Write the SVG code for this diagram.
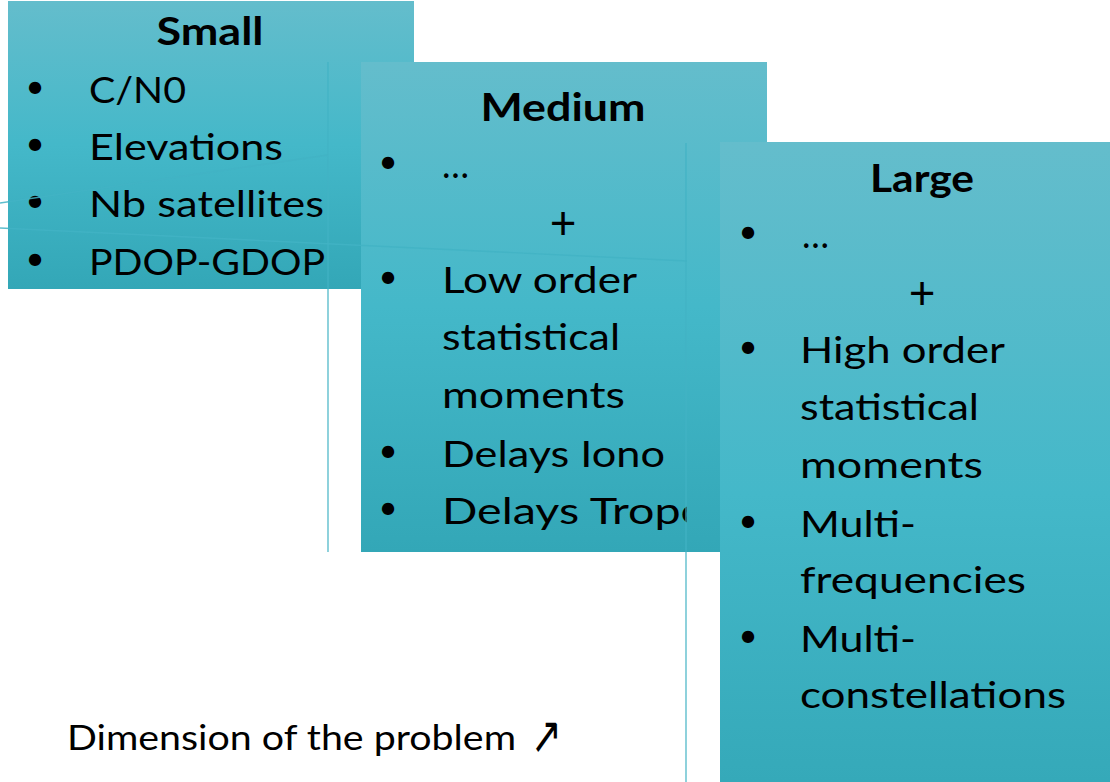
<svg xmlns="http://www.w3.org/2000/svg" width="1110" height="782" viewBox="0 0 1110 782">
<defs>
<linearGradient id="g" x1="0" y1="0" x2="0" y2="1">
<stop offset="0" stop-color="#64bdcc"/>
<stop offset="0.5" stop-color="#44b8c9"/>
<stop offset="1" stop-color="#33a7b7"/>
</linearGradient>
<linearGradient id="gL" x1="0" y1="0" x2="0" y2="1">
<stop offset="0" stop-color="#64bdcc"/>
<stop offset="0.55" stop-color="#44b8c9"/>
<stop offset="1" stop-color="#35a9b9"/>
</linearGradient>
<clipPath id="clipM"><rect x="361" y="62" width="326" height="490"/></clipPath>
</defs>
<style>
text{font-family:Lato,"Liberation Sans",sans-serif;fill:#000}
.t{font-size:37px}
.h{font-size:39px;font-weight:bold;text-anchor:middle}
.b{font-size:33px;text-anchor:middle}
.p{font-size:46px;text-anchor:middle}
.ln{stroke:#42b3c4;stroke-width:1.4;fill:none;opacity:0.85}
</style>
<rect width="1110" height="782" fill="#fff"/>
<g id="small">
<rect x="8" y="1" width="406" height="288" fill="url(#g)"/>
<text class="h" x="210" y="45" textLength="107" lengthAdjust="spacingAndGlyphs">Small</text>
<text class="b" x="35" y="98">•</text>
<text class="t" x="89" y="103" textLength="97" lengthAdjust="spacingAndGlyphs">C/N0</text>
<text class="b" x="35" y="155">•</text>
<text class="t" x="89" y="160" textLength="194" lengthAdjust="spacingAndGlyphs">Elevations</text>
<text class="b" x="35" y="212">•</text>
<text class="t" x="89" y="217" textLength="235" lengthAdjust="spacingAndGlyphs">Nb satellites</text>
<text class="b" x="35" y="270">•</text>
<text class="t" x="89" y="275" textLength="236" lengthAdjust="spacingAndGlyphs">PDOP-GDOP</text>
</g>
<g id="medium">
<rect x="361" y="62" width="406" height="490" fill="url(#g)"/>
<g clip-path="url(#clipM)">
<text class="h" x="563" y="121" textLength="165" lengthAdjust="spacingAndGlyphs">Medium</text>
<text class="b" x="388" y="173">•</text>
<text class="t" x="442" y="178" textLength="27" lengthAdjust="spacingAndGlyphs">…</text>
<text class="p" x="563" y="239">+</text>
<text class="b" x="388" y="288">•</text>
<text class="t" x="442" y="293" textLength="195" lengthAdjust="spacingAndGlyphs">Low order</text>
<text class="t" x="442" y="350" textLength="178" lengthAdjust="spacingAndGlyphs">statistical</text>
<text class="t" x="442" y="408" textLength="183" lengthAdjust="spacingAndGlyphs">moments</text>
<text class="b" x="388" y="462">•</text>
<text class="t" x="442" y="467" textLength="223" lengthAdjust="spacingAndGlyphs">Delays Iono</text>
<text class="b" x="388" y="519">•</text>
<text class="t" x="442" y="524" textLength="265" lengthAdjust="spacingAndGlyphs">Delays Tropo</text>
</g>
</g>
<g id="large">
<rect x="720" y="142" width="390" height="640" fill="url(#gL)"/>
<text class="h" x="922" y="192" textLength="104" lengthAdjust="spacingAndGlyphs">Large</text>
<text class="b" x="748" y="243">•</text>
<text class="t" x="802" y="248" textLength="27" lengthAdjust="spacingAndGlyphs">…</text>
<text class="p" x="922" y="309">+</text>
<text class="b" x="748" y="358">•</text>
<text class="t" x="800" y="363" textLength="205" lengthAdjust="spacingAndGlyphs">High order</text>
<text class="t" x="800" y="420" textLength="179" lengthAdjust="spacingAndGlyphs">statistical</text>
<text class="t" x="800" y="478" textLength="183" lengthAdjust="spacingAndGlyphs">moments</text>
<text class="b" x="748" y="532">•</text>
<text class="t" x="800" y="537" textLength="116" lengthAdjust="spacingAndGlyphs">Multi-</text>
<text class="t" x="800" y="593" textLength="226" lengthAdjust="spacingAndGlyphs">frequencies</text>
<text class="b" x="748" y="647">•</text>
<text class="t" x="800" y="652" textLength="116" lengthAdjust="spacingAndGlyphs">Multi-</text>
<text class="t" x="800" y="708" textLength="266" lengthAdjust="spacingAndGlyphs">constellations</text>
</g>
<g id="caption">
<text x="67" y="750" style="font-size:35px" textLength="449" lengthAdjust="spacingAndGlyphs">Dimension of the problem</text>
<text x="531" y="753" style="font-size:52px;font-family:'DejaVu Sans',sans-serif" textLength="31" lengthAdjust="spacingAndGlyphs">↗</text>
</g>
<g id="connectors">
<line class="ln" x1="328" y1="62" x2="328" y2="552"/>
<line class="ln" x1="686" y1="143" x2="686" y2="782"/>
<line class="ln" x1="0" y1="203" x2="328" y2="155"/>
<line class="ln" x1="0" y1="228" x2="687" y2="261"/>
</g>
</svg>
